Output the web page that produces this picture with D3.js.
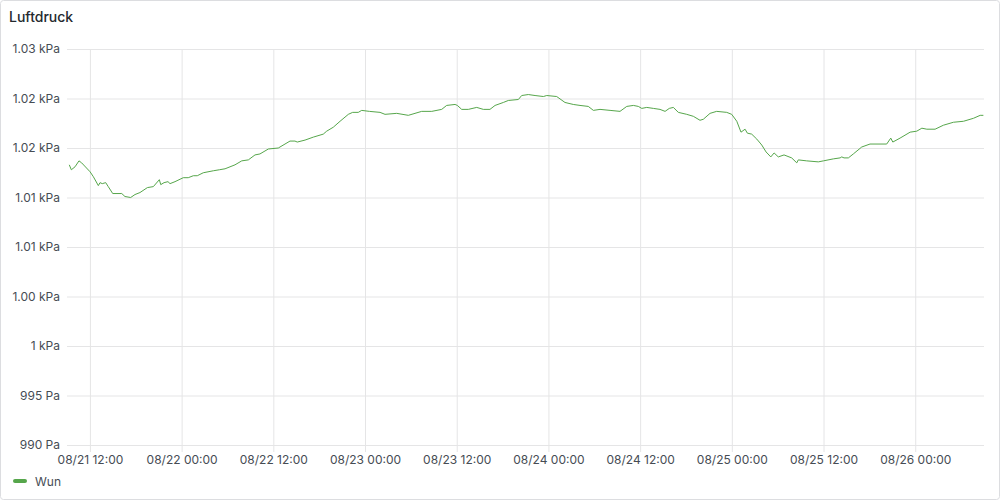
<!DOCTYPE html>
<html>
<head>
<meta charset="utf-8">
<script src="https://cdn.jsdelivr.net/npm/d3@7"></script>
<style>
  html, body { margin: 0; padding: 0; background: #fff; }
  body { width: 1000px; height: 500px; overflow: hidden; font-family: Inter, "Open Sans", sans-serif; }
</style>
</head>
<body>
<svg id="chart" width="1000" height="500"></svg>
<script>
// ---- data ----
const title = "Luftdruck";
const seriesName = "Wun";
const times = [
  "2024-08-21T09:18","2024-08-21T09:34","2024-08-21T10:03","2024-08-21T10:34","2024-08-21T10:55",
  "2024-08-21T12:01","2024-08-21T12:27","2024-08-21T13:06","2024-08-21T13:19","2024-08-21T13:37",
  "2024-08-21T14:04","2024-08-21T14:24","2024-08-21T14:59","2024-08-21T16:10","2024-08-21T16:35",
  "2024-08-21T17:20","2024-08-21T17:54","2024-08-21T18:33","2024-08-21T19:31","2024-08-21T20:18",
  "2024-08-21T21:05","2024-08-21T21:16","2024-08-21T21:42","2024-08-21T22:13","2024-08-21T22:29",
  "2024-08-21T23:08","2024-08-22T00:13","2024-08-22T00:52","2024-08-22T01:32","2024-08-22T02:03",
  "2024-08-22T02:50","2024-08-22T04:09","2024-08-22T04:56","2024-08-22T05:41","2024-08-22T06:59",
  "2024-08-22T07:52","2024-08-22T08:44","2024-08-22T09:36","2024-08-22T10:15","2024-08-22T11:21",
  "2024-08-22T12:39","2024-08-22T14:11","2024-08-22T14:50","2024-08-22T15:08","2024-08-22T16:09",
  "2024-08-22T17:14","2024-08-22T18:32","2024-08-22T18:59","2024-08-22T19:51","2024-08-22T20:44",
  "2024-08-22T21:49","2024-08-22T22:23","2024-08-22T23:07","2024-08-22T23:34","2024-08-23T00:34",
  "2024-08-23T01:58","2024-08-23T02:37","2024-08-23T04:09","2024-08-23T05:40","2024-08-23T07:25",
  "2024-08-23T08:44","2024-08-23T10:02","2024-08-23T10:41","2024-08-23T11:47","2024-08-23T12:05",
  "2024-08-23T12:39","2024-08-23T13:31","2024-08-23T14:37","2024-08-23T15:29","2024-08-23T16:21",
  "2024-08-23T17:01","2024-08-23T18:06","2024-08-23T18:45","2024-08-23T20:04","2024-08-23T20:30",
  "2024-08-23T21:22","2024-08-23T22:15","2024-08-23T23:20","2024-08-23T23:47","2024-08-24T01:05",
  "2024-08-24T02:10","2024-08-24T03:15","2024-08-24T04:08","2024-08-24T05:13","2024-08-24T05:53",
  "2024-08-24T06:45","2024-08-24T08:04","2024-08-24T09:22","2024-08-24T10:15","2024-08-24T11:07",
  "2024-08-24T11:46","2024-08-24T12:13","2024-08-24T12:52","2024-08-24T13:44","2024-08-24T14:36",
  "2024-08-24T15:16","2024-08-24T15:49","2024-08-24T16:21","2024-08-24T17:00","2024-08-24T18:06",
  "2024-08-24T18:58","2024-08-24T19:50","2024-08-24T20:16","2024-08-24T21:09","2024-08-24T22:01",
  "2024-08-24T23:20","2024-08-24T23:59","2024-08-25T00:39","2024-08-25T01:12","2024-08-25T01:44",
  "2024-08-25T02:02","2024-08-25T02:36","2024-08-25T03:16","2024-08-25T03:55","2024-08-25T04:29",
  "2024-08-25T05:06","2024-08-25T05:32","2024-08-25T06:05","2024-08-25T06:50","2024-08-25T07:50",
  "2024-08-25T08:30","2024-08-25T08:42","2024-08-25T09:48","2024-08-25T11:19","2024-08-25T11:59",
  "2024-08-25T13:17","2024-08-25T14:10","2024-08-25T14:23","2024-08-25T14:41","2024-08-25T15:15",
  "2024-08-25T15:54","2024-08-25T17:00","2024-08-25T18:05","2024-08-25T20:16","2024-08-25T20:48",
  "2024-08-25T21:04","2024-08-25T22:01","2024-08-25T23:20","2024-08-26T00:12","2024-08-26T00:52",
  "2024-08-26T01:31","2024-08-26T02:36","2024-08-26T03:41","2024-08-26T05:00","2024-08-26T06:19",
  "2024-08-26T07:37","2024-08-26T08:30","2024-08-26T08:55"
];
const pressurePa = [
  1018.3,1017.8,1018.1,1018.7,1018.5,
  1017.6,1017.1,1016.2,1016.5,1016.4,
  1016.5,1016.1,1015.4,1015.4,1015.1,
  1015.0,1015.3,1015.5,1016.0,1016.1,
  1016.8,1016.3,1016.5,1016.6,1016.4,
  1016.6,1017.0,1017.0,1017.2,1017.2,
  1017.5,1017.7,1017.8,1017.9,1018.3,
  1018.7,1018.8,1019.3,1019.4,1019.9,
  1020.0,1020.7,1020.7,1020.6,1020.8,
  1021.1,1021.4,1021.7,1022.1,1022.7,
  1023.4,1023.6,1023.6,1023.8,1023.7,
  1023.6,1023.4,1023.5,1023.3,1023.7,
  1023.7,1023.9,1024.3,1024.4,1024.3,
  1023.9,1023.9,1024.1,1023.9,1023.9,
  1024.3,1024.6,1024.8,1024.9,1025.3,
  1025.4,1025.3,1025.2,1025.3,1025.2,
  1024.6,1024.4,1024.3,1024.2,1023.8,
  1023.9,1023.8,1023.7,1024.2,1024.3,
  1024.2,1024.0,1024.1,1024.0,1023.9,
  1023.7,1024.0,1024.1,1023.6,1023.4,
  1023.2,1022.8,1022.9,1023.5,1023.7,
  1023.6,1023.4,1022.7,1021.6,1021.9,
  1021.5,1021.4,1020.9,1020.3,1019.6,
  1019.1,1019.5,1019.1,1019.3,1019.0,
  1018.5,1018.8,1018.7,1018.6,1018.7,
  1018.9,1019.0,1019.1,1019.0,1019.0,
  1019.4,1020.1,1020.4,1020.4,1021.0,
  1020.6,1021.0,1021.6,1021.7,1022.0,
  1021.9,1021.9,1022.3,1022.6,1022.7,
  1023.0,1023.3,1023.3
];
const timeRange = ["2024-08-21T09:00", "2024-08-26T09:00"];
const yTickValues = [1030, 1025, 1020, 1015, 1010, 1005, 1000, 995, 990];
const yTickLabels = ["1.03 kPa","1.02 kPa","1.02 kPa","1.01 kPa","1.01 kPa","1.00 kPa","1 kPa","995 Pa","990 Pa"];
const xTickValues = ["2024-08-21T12:00","2024-08-22T00:00","2024-08-22T12:00","2024-08-23T00:00","2024-08-23T12:00",
  "2024-08-24T00:00","2024-08-24T12:00","2024-08-25T00:00","2024-08-25T12:00","2024-08-26T00:00"];
const xTickLabels = ["08/21 12:00","08/22 00:00","08/22 12:00","08/23 00:00","08/23 12:00",
  "08/24 00:00","08/24 12:00","08/25 00:00","08/25 12:00","08/26 00:00"];

// ---- drawing ----
const parse = s => new Date(s + ":00Z");
const data = times.map((t, i) => ({ t: parse(t), v: pressurePa[i] }));

const svg = d3.select("#chart");
const plot = { left: 67, right: 984, top: 49, bottom: 445 };
const lineColor = "#56A64B";
const textColor = "#464c54";
const gridColor = "#e5e5e6";

// panel border
svg.append("rect").attr("x", 0.5).attr("y", 0.5).attr("width", 999).attr("height", 499)
  .attr("rx", 3).attr("fill", "#fff").attr("stroke", "#dcdde0");

svg.append("text").attr("x", 9).attr("y", 22).text(title)
  .attr("font-size", 14).attr("font-weight", 500).attr("fill", "#24292e");

const x = d3.scaleUtc().domain(timeRange.map(parse)).range([plot.left, plot.right]);
const y = d3.scaleLinear().domain([990, 1030]).range([plot.bottom, plot.top]);

// y axis (gridlines + labels)
const yAxis = d3.axisLeft(y).tickValues(yTickValues)
  .tickFormat((d, i) => yTickLabels[i])
  .tickSize(-(plot.right - plot.left)).tickPadding(7);
const gy = svg.append("g").attr("transform", `translate(${plot.left},0)`).call(yAxis);
gy.select(".domain").remove();
gy.selectAll(".tick line").attr("stroke", gridColor).attr("stroke-width", 1);
gy.selectAll(".tick text").attr("font-size", 12).attr("fill", textColor)
  .attr("font-family", "Inter, sans-serif");

// x axis (gridlines + labels)
const xAxis = d3.axisBottom(x).tickValues(xTickValues.map(parse))
  .tickFormat((d, i) => xTickLabels[i])
  .tickSize(-(plot.bottom - plot.top)).tickPadding(10);
const gx = svg.append("g").attr("transform", `translate(0,${plot.bottom})`).call(xAxis);
gx.select(".domain").remove();
gx.selectAll(".tick line").attr("stroke", gridColor).attr("stroke-width", 1).attr("y1", 7);
gx.selectAll(".tick text").attr("font-size", 12).attr("fill", textColor)
  .attr("font-family", "Inter, sans-serif");

// line
const line = d3.line().x(d => x(d.t)).y(d => y(d.v));
svg.append("path").datum(data).attr("d", line)
  .attr("fill", "none").attr("stroke", lineColor).attr("stroke-width", 1)
  .attr("stroke-linejoin", "round");

// legend
svg.append("rect").attr("x", 13).attr("y", 479).attr("width", 14).attr("height", 4)
  .attr("rx", 2).attr("fill", lineColor);
svg.append("text").attr("x", 35).attr("y", 485.5).text(seriesName)
  .attr("font-size", 12).attr("fill", textColor);
</script>
</body>
</html>
